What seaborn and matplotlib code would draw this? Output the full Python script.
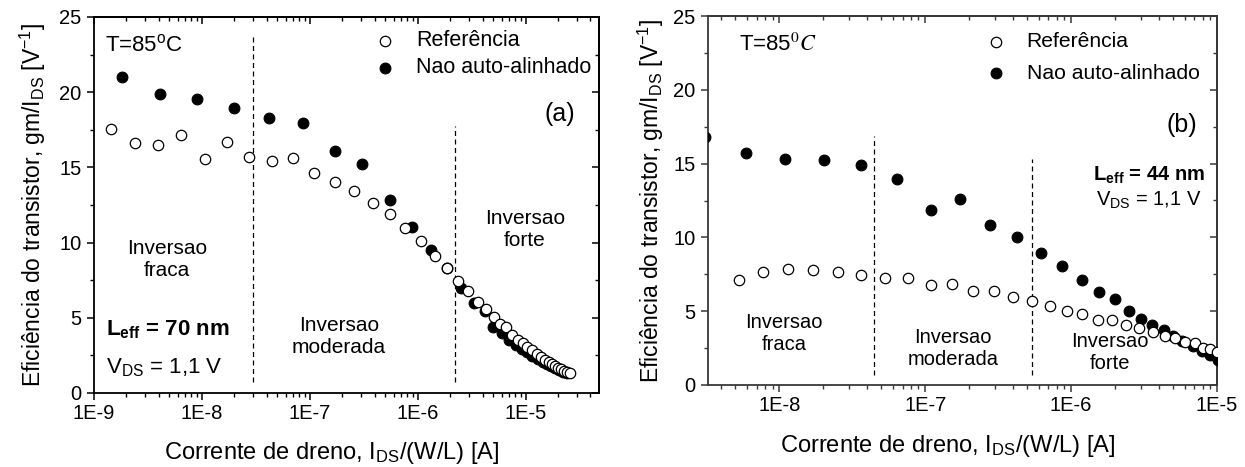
import numpy as np
import matplotlib
matplotlib.use("Agg")
import matplotlib.pyplot as plt
from matplotlib.ticker import LogLocator, MultipleLocator, FuncFormatter, NullFormatter
import seaborn as sns

# ---- (a) L_eff = 70 nm ----
ref_a_ids = [1.44e-9, 2.39e-9, 3.91e-9, 6.44e-9, 1.07e-8, 1.71e-8, 2.74e-8, 4.43e-8, 7.0e-8,
             1.10e-7, 1.70e-7, 2.58e-7, 3.84e-7, 5.57e-7, 7.69e-7, 1.08e-6, 1.44e-6, 1.87e-6,
             2.39e-6, 2.93e-6, 3.62e-6, 4.33e-6, 5.08e-6, 5.86e-6, 6.66e-6, 7.43e-6, 8.43e-6,
             9.42e-6, 1.04e-5, 1.15e-5, 1.27e-5, 1.39e-5, 1.51e-5, 1.64e-5, 1.76e-5, 1.88e-5,
             2.01e-5, 2.14e-5, 2.28e-5, 2.42e-5, 2.57e-5]
ref_a_gm = [17.54, 16.59, 16.48, 17.15, 15.53, 16.66, 15.69, 15.42, 15.62,
            14.60, 14.05, 13.43, 12.61, 11.88, 10.95, 10.09, 9.12, 8.30,
            7.48, 6.75, 6.08, 5.58, 5.04, 4.60, 4.36, 3.87, 3.54,
            3.32, 3.03, 2.83, 2.61, 2.39, 2.21, 2.04, 1.90, 1.79,
            1.68, 1.57, 1.48, 1.39, 1.31]
nsa_a_ids = [1.82e-9, 4.07e-9, 8.95e-9, 1.99e-8, 4.15e-8, 8.60e-8, 1.71e-7, 3.08e-7, 5.53e-7,
             8.95e-7, 1.33e-6, 1.87e-6, 2.52e-6, 3.33e-6, 4.18e-6, 5.0e-6, 6.02e-6, 7.01e-6,
             8.09e-6, 9.19e-6, 1.04e-5, 1.16e-5, 1.30e-5, 1.44e-5, 1.58e-5, 1.73e-5, 1.89e-5,
             2.05e-5, 2.23e-5, 2.40e-5]
nsa_a_gm = [21.0, 19.87, 19.58, 18.96, 18.27, 17.96, 16.11, 15.20, 12.85,
            11.02, 9.51, 8.34, 6.97, 5.97, 5.42, 4.42, 3.98, 3.54,
            3.21, 2.92, 2.70, 2.48, 2.26, 2.08, 1.90, 1.77, 1.64,
            1.53, 1.42, 1.33]
limits_a = [2.97e-8, 2.23e-6]          # weak/moderate, moderate/strong inversion
limits_a_top = [23.9, 17.75]

# ---- (b) L_eff = 44 nm ----
ref_b_ids = [5.28e-9, 7.69e-9, 1.14e-8, 1.70e-8, 2.51e-8, 3.66e-8, 5.34e-8, 7.62e-8, 1.10e-7,
             1.52e-7, 2.12e-7, 2.95e-7, 4.01e-7, 5.38e-7, 7.14e-7, 9.31e-7, 1.18e-6, 1.52e-6,
             1.91e-6, 2.39e-6, 2.90e-6, 3.63e-6, 4.39e-6, 5.13e-6, 6.01e-6, 7.03e-6, 7.98e-6,
             8.93e-6, 1.0e-5]
ref_b_gm = [7.13, 7.65, 7.85, 7.81, 7.65, 7.42, 7.26, 7.26, 6.79,
            6.86, 6.40, 6.40, 5.95, 5.66, 5.34, 5.04, 4.82, 4.43,
            4.37, 4.09, 3.87, 3.57, 3.32, 3.16, 2.94, 2.82, 2.53,
            2.42, 2.21]
nsa_b_ids = [3.08e-9, 5.95e-9, 1.10e-8, 2.04e-8, 3.66e-8, 6.42e-8, 1.10e-7, 1.72e-7, 2.78e-7,
             4.23e-7, 6.25e-7, 8.70e-7, 1.19e-6, 1.56e-6, 2.01e-6, 2.48e-6, 3.03e-6, 3.57e-6,
             4.30e-6, 5.0e-6, 5.8e-6, 6.8e-6, 7.9e-6, 9.0e-6, 1.02e-5]
nsa_b_gm = [16.8, 15.75, 15.30, 15.27, 14.91, 13.96, 11.83, 12.60, 10.81,
            10.02, 8.93, 8.05, 7.08, 6.29, 5.84, 5.00, 4.48, 4.09,
            3.70, 3.35, 3.00, 2.65, 2.30, 2.00, 1.72]
limits_b = [4.48e-8, 5.38e-7]
limits_b_top = [16.9, 15.34]

series_names = ["Referência", "Nao auto-alinhado"]
x_label = "Corrente de dreno, I$_{\\mathrm{DS}}$/(W/L) [A]"
y_label = "Eficiência do transistor, gm/I$_{\\mathrm{DS}}$ [V$^{\\mathrm{-1}}$]"

sns.set_style("ticks")
plt.rcParams["font.family"] = ["Liberation Sans", "DejaVu Sans"]
plt.rcParams["mathtext.fontset"] = "custom"
plt.rcParams["mathtext.rm"] = "Liberation Sans"
plt.rcParams["mathtext.it"] = "Liberation Sans:italic"
plt.rcParams["mathtext.bf"] = "Liberation Sans:bold"
for key in ("text.color", "axes.labelcolor", "xtick.color", "ytick.color", "axes.edgecolor"):
    plt.rcParams[key] = "black"

W, H = 1245, 467
fig = plt.figure(figsize=(W / 100, H / 100), dpi=100)
fig.patch.set_facecolor("white")
ax_a = fig.add_axes([94 / W, (H - 393) / H, 505 / W, 376 / H])
ax_b = fig.add_axes([708 / W, (H - 385) / H, 509 / W, 369 / H])

fmt_exp = FuncFormatter(lambda v, p: f"1E{int(round(np.log10(v)))}")


def setup_axes(ax, xlim, spine_color, ylabelpad, xlabel_y):
    ax.set_xscale("log")
    ax.set_xlim(*xlim)
    ax.set_ylim(0, 25)
    ax.xaxis.set_major_locator(LogLocator(base=10, numticks=20))
    ax.xaxis.set_minor_locator(LogLocator(base=10, subs=np.arange(2, 10), numticks=20))
    ax.xaxis.set_major_formatter(fmt_exp)
    ax.xaxis.set_minor_formatter(NullFormatter())
    ax.yaxis.set_major_locator(MultipleLocator(5))
    ax.yaxis.set_minor_locator(MultipleLocator(2.5))
    for sp in ax.spines.values():
        sp.set_linewidth(1.3)
        sp.set_color(spine_color)
        sp.set_visible(True)
    ax.tick_params(which="major", direction="out", length=5, width=1.1,
                   color=spine_color, labelsize=14.5, labelcolor="black")
    ax.tick_params(which="minor", direction="out", length=3, width=1.0, color=spine_color)
    ax.tick_params(axis="x", which="major", pad=3)
    ax.tick_params(axis="y", which="major", pad=4)
    # mirrored inward ticks on the top and right edges
    sx = ax.secondary_xaxis("top")
    sx.xaxis.set_major_locator(LogLocator(base=10, numticks=20))
    sx.xaxis.set_minor_locator(LogLocator(base=10, subs=np.arange(2, 10), numticks=20))
    sx.tick_params(which="both", direction="in", labeltop=False, color=spine_color)
    sx.tick_params(which="major", length=5, width=1.1)
    sx.tick_params(which="minor", length=3, width=1.0)
    sx.spines["top"].set_linewidth(1.3)
    sx.spines["top"].set_color(spine_color)
    sy = ax.secondary_yaxis("right")
    sy.yaxis.set_major_locator(MultipleLocator(5))
    sy.yaxis.set_minor_locator(MultipleLocator(2.5))
    sy.tick_params(which="both", direction="in", labelright=False, color=spine_color)
    sy.tick_params(which="major", length=5, width=1.1)
    sy.tick_params(which="minor", length=3, width=1.0)
    sy.spines["right"].set_linewidth(1.3)
    sy.spines["right"].set_color(spine_color)
    ax.set_xlabel(x_label, fontsize=17)
    ax.set_ylabel(y_label, fontsize=16.5, labelpad=ylabelpad)
    ax.xaxis.set_label_coords(0.47, xlabel_y)


def draw_series(ax, ref_x, ref_y, nsa_x, nsa_y, xlim):
    sns.scatterplot(x=nsa_x, y=nsa_y, ax=ax, color="black", edgecolor="black",
                    linewidth=0.8, s=60, marker="o", zorder=3, legend=False)
    sns.scatterplot(x=ref_x, y=ref_y, ax=ax, color="white", edgecolor="black",
                    linewidth=0.9, s=56, marker="o", zorder=4, legend=False)
    nsa_coll, ref_coll = ax.collections[-2], ax.collections[-1]
    ax.set_xlim(*xlim)
    ax.set_ylim(0, 25)
    return ref_coll, nsa_coll


def draw_limits(ax, xs, tops):
    for xv, top in zip(xs, tops):
        ax.plot([xv, xv], [0.7, top], color="black", lw=0.9, ls=(0, (4, 2.8)), zorder=2)


# ---------- panel (a) ----------
xlim_a = (1e-9, 4.8e-5)
setup_axes(ax_a, xlim_a, "black", 8, -0.125)
ref_h, nsa_h = draw_series(ax_a, ref_a_ids, ref_a_gm, nsa_a_ids, nsa_a_gm, xlim_a)
draw_limits(ax_a, limits_a, limits_a_top)
ax_a.set_xlim(*xlim_a)
ax_a.legend([ref_h, nsa_h], series_names, loc="upper left",
            bbox_to_anchor=(0.555, 0.965), frameon=False, fontsize=15.5,
            handlelength=1.0, handletextpad=0.95, labelspacing=0.28,
            borderpad=0, borderaxespad=0, scatterpoints=1)
ta = dict(transform=ax_a.transAxes)
ax_a.text(0.022, 0.925, "T=85$^{\\mathrm{o}}$C", fontsize=16, ha="left", va="center",
          math_fontfamily="custom", **ta)
ax_a.text(0.923, 0.743, "(a)", fontsize=18, ha="center", va="center", **ta)
ax_a.text(0.144, 0.356, "Inversao\nfraca", fontsize=15, ha="center", va="center",
          linespacing=1.2, **ta)
ax_a.text(0.485, 0.150, "Inversao\nmoderada", fontsize=15, ha="center", va="center",
          linespacing=1.2, **ta)
ax_a.text(0.853, 0.434, "Inversao\nforte", fontsize=15, ha="center", va="center",
          linespacing=1.2, **ta)
ax_a.text(0.024, 0.168, "L$_{\\mathbf{eff}}$ = 70 nm", fontsize=16, fontweight="bold",
          ha="left", va="center", **ta)
ax_a.text(0.024, 0.066, "V$_{\\mathrm{DS}}$ = 1,1 V", fontsize=16, ha="left", va="center", **ta)

# ---------- panel (b) ----------
xlim_b = (3.25e-9, 1e-5)
setup_axes(ax_b, xlim_b, "#383838", 5, -0.13)
ref_h, nsa_h = draw_series(ax_b, ref_b_ids, ref_b_gm, nsa_b_ids, nsa_b_gm, xlim_b)
draw_limits(ax_b, limits_b, limits_b_top)
ax_b.set_xlim(*xlim_b)
ax_b.legend([ref_h, nsa_h], series_names, loc="upper left",
            bbox_to_anchor=(0.545, 0.956), frameon=False, fontsize=15.2,
            handlelength=1.0, handletextpad=0.95, labelspacing=0.6,
            borderpad=0, borderaxespad=0, scatterpoints=1)
tb = dict(transform=ax_b.transAxes)
ax_b.text(0.061, 0.921, "T=85$^0C$", fontsize=16, ha="left", va="center",
          math_fontfamily="stix", **tb)
ax_b.text(0.931, 0.705, "(b)", fontsize=18, ha="center", va="center", **tb)
ax_b.text(0.149, 0.140, "Inversao\nfraca", fontsize=14.5, ha="center", va="center",
          linespacing=1.2, **tb)
ax_b.text(0.481, 0.099, "Inversao\nmoderada", fontsize=14.5, ha="center", va="center",
          linespacing=1.2, **tb)
ax_b.text(0.790, 0.088, "Inversao\nforte", fontsize=14.5, ha="center", va="center",
          linespacing=1.2, **tb)
ax_b.text(0.976, 0.569, "L$_{\\mathbf{eff}}$ = 44 nm", fontsize=14.5, fontweight="bold",
          ha="right", va="center", **tb)
ax_b.text(0.970, 0.501, "V$_{\\mathrm{DS}}$ = 1,1 V", fontsize=14.5, ha="right", va="center", **tb)

fig.savefig("out.png", dpi=100, facecolor="white")
